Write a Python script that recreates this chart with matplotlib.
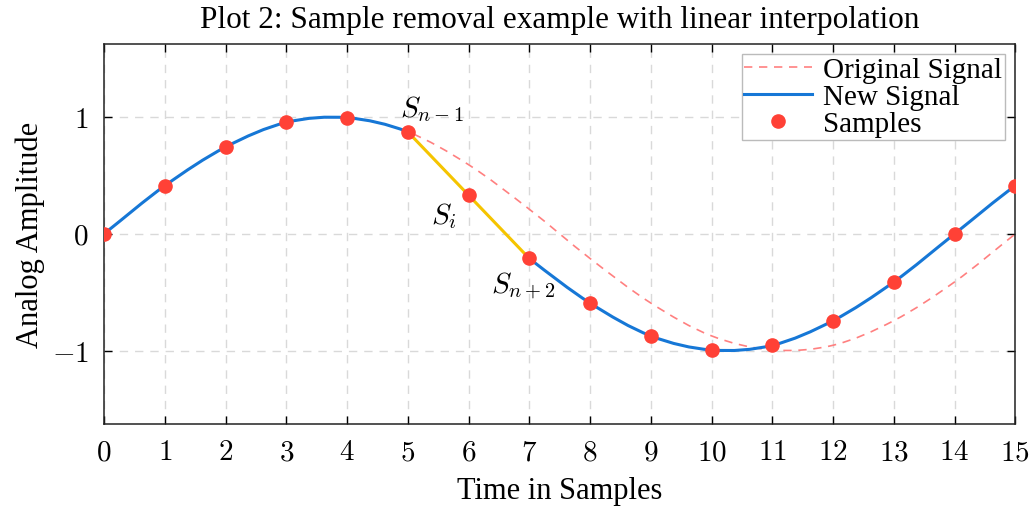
import numpy as np
import matplotlib
matplotlib.use('Agg')
import matplotlib.pyplot as plt
from matplotlib.path import Path
from matplotlib.patches import PathPatch
from matplotlib.lines import Line2D

# data
time = list(range(16))
original = [0, 0.41, 0.74, 0.95, 0.99, 0.87, 0.59, 0.21,
            -0.21, -0.59, -0.87, -0.99, -0.95, -0.74, -0.41, 0]
# shifted samples after removal, sample 6 linearly interpolated
new_samples = [0, 0.41, 0.74, 0.95, 0.99, 0.87, 0.33, -0.21,
               -0.59, -0.87, -0.99, -0.95, -0.74, -0.41, 0, 0.41]
# neighbours outside the drawn pieces (used only for curve tangents)
orig_pad = (-0.41, 0.41)
new_head_pad = (-0.41, 0.59)   # values at x=-1 and x=6 of the unshifted wave
new_tail_pad = (0.21, 0.74)    # values at x=6 and x=16 of the shifted wave
gap_x = [5, 6, 7]
x_ticks = list(range(16))
y_ticks = [-1, 0, 1]

plt.rcParams['mathtext.fontset'] = 'cm'
plt.rcParams['font.family'] = ['Liberation Serif', 'DejaVu Serif']


def smooth_path(xs, ys, pad):
    """Catmull-Rom curve through the points, drawn as cubic Bezier path."""
    px = [xs[0] - 1] + list(xs) + [xs[-1] + 1]
    py = [pad[0]] + list(ys) + [pad[1]]
    verts = [(px[1], py[1])]
    codes = [Path.MOVETO]
    for i in range(1, len(px) - 2):
        c1 = (px[i] + (px[i + 1] - px[i - 1]) / 6, py[i] + (py[i + 1] - py[i - 1]) / 6)
        c2 = (px[i + 1] - (px[i + 2] - px[i]) / 6, py[i + 1] - (py[i + 2] - py[i]) / 6)
        verts += [c1, c2, (px[i + 1], py[i + 1])]
        codes += [Path.CURVE4] * 3
    return Path(verts, codes)


fig = plt.figure(figsize=(10.35, 5.1), dpi=100)
ax = fig.add_axes([0.1005, 0.167, 0.8805, 0.745])

blue = '#1677d6'
ax.add_patch(PathPatch(smooth_path(time, original, orig_pad), fill=False,
                       edgecolor='#ff8080', lw=1.2, linestyle=(0, (5, 4)), zorder=2))
ax.add_patch(PathPatch(smooth_path(time[:6], new_samples[:6], new_head_pad), fill=False,
                       edgecolor=blue, lw=2.2, zorder=3))
ax.add_patch(PathPatch(smooth_path(time[7:], new_samples[7:], new_tail_pad), fill=False,
                       edgecolor=blue, lw=2.2, zorder=3))
ax.plot(gap_x, [new_samples[i] for i in gap_x], color='#f5c400', lw=2.2, zorder=3)
ax.plot(time, new_samples, 'o', color='#ff4136', ms=9.5, zorder=4)

ax.text(5.4, 1.07, r'$S_{n-1}$', fontsize=21, ha='center', va='center')
ax.text(5.6, 0.16, r'$S_i$', fontsize=21, ha='center', va='center')
ax.text(6.9, -0.44, r'$S_{n+2}$', fontsize=21, ha='center', va='center')

ax.set_xlim(0, 15)
ax.set_ylim(-1.62, 1.62)
ax.set_xticks(x_ticks)
ax.set_xticklabels([f'${t}$' for t in x_ticks], fontsize=21)
ax.set_yticks(y_ticks)
ax.set_yticklabels([f'${t}$' for t in y_ticks], fontsize=21)
ax.tick_params(direction='in', top=True, right=True, length=6, width=1, pad=11)
ax.grid(True, color='#d9d9d9', linestyle=(0, (6, 5)), lw=1)
for s in ax.spines.values():
    s.set_color('#222222')
    s.set_linewidth(1.1)

ax.set_title('Plot 2: Sample removal example with linear interpolation', fontsize=22.5, pad=12)
ax.set_xlabel('Time in Samples', fontsize=22, labelpad=8)
ax.set_ylabel('Analog Amplitude', fontsize=22, labelpad=5)

handles = [Line2D([], [], color='#ff8080', lw=1.2, linestyle=(0, (5, 4))),
           Line2D([], [], color=blue, lw=2.2),
           Line2D([], [], color='#ff4136', marker='o', ms=9.5, lw=0)]
leg = ax.legend(handles, ['Original Signal', 'New Signal', 'Samples'], loc='upper right',
                fontsize=21, labelspacing=0.02, handlelength=2.3, handletextpad=0.4,
                borderpad=0.1, borderaxespad=0.35, fancybox=False, framealpha=1)
leg.get_frame().set_edgecolor('#bbbbbb')

fig.savefig('out.png', dpi=100)
